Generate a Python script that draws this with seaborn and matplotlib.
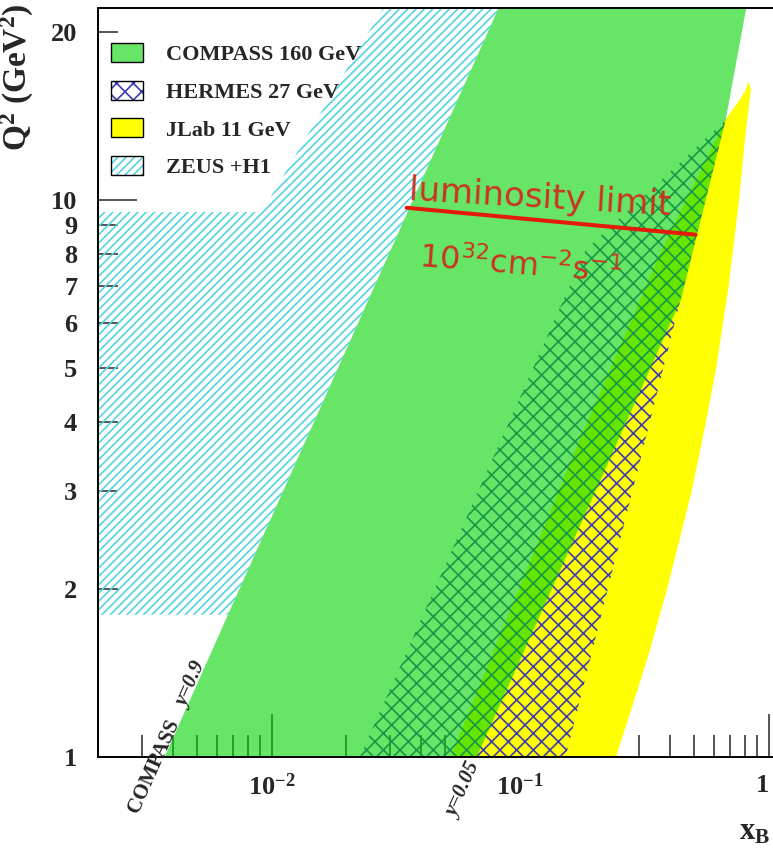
import matplotlib
matplotlib.use("Agg")
import matplotlib.pyplot as plt
import seaborn as sns
import pandas as pd
from matplotlib.patches import Patch
from matplotlib.legend_handler import HandlerTuple
from matplotlib.ticker import FixedLocator, FixedFormatter, NullFormatter

# ---------------- data ----------------
# COMPASS 160 GeV region (x_B, Q^2) polygon
compass_x = [0.00352, 0.0852, 0.826, 0.671, 0.443, 0.0635]
compass_q2 = [0.95, 23.0, 23.0, 13.9, 6.61, 0.95]

# HERMES 27 GeV region
hermes_x = [0.0215, 0.1835, 0.671, 0.148]
hermes_q2 = [0.95, 8.13, 13.9, 0.95]

# JLab 11 GeV region
jlab_x = [0.0501, 0.167, 0.371, 0.67, 0.80, 0.83, 0.848, 0.805, 0.76, 0.69,
          0.615, 0.56, 0.49, 0.39, 0.325, 0.243, 0.233]
jlab_q2 = [0.95, 3.56, 8.13, 13.9, 15.6, 16.3, 15.8, 13.0, 10.0, 7.0,
           5.0, 4.0, 3.0, 2.0, 1.5, 1.0, 0.95]

# ZEUS + H1 region
zeus_x = [0.0019, 0.0019, 0.00912, 0.0296, 0.0852, 0.00667]
zeus_q2 = [1.8, 9.51, 9.51, 23.0, 23.0, 1.8]

# luminosity limit line
lumi_x = [0.0349, 0.508]
lumi_q2 = [9.68, 8.66]

legend_labels = ["COMPASS 160 GeV", "HERMES 27 GeV", "JLab 11 GeV", "ZEUS +H1"]

x_major = [0.01, 0.1, 1.0]
x_major_labels = [r"$10^{-2}$", r"$10^{-1}$", "1"]
x_minor = [0.002, 0.003, 0.004, 0.005, 0.006, 0.007, 0.008, 0.009,
           0.02, 0.03, 0.04, 0.05, 0.06, 0.07, 0.08, 0.09,
           0.2, 0.3, 0.4, 0.5, 0.6, 0.7, 0.8, 0.9]
y_major = [1, 10]
y_major_labels = ["1", "10"]
y_minor = [2, 3, 4, 5, 6, 7, 8, 9, 20]
y_minor_labels = ["2", "3", "4", "5", "6", "7", "8", "9", "20"]

# ---------------- style ----------------
sns.set_theme(style="ticks")
plt.rcParams.update({
    "font.family": ["Liberation Serif", "DejaVu Serif"],
    "font.weight": "normal",
    "mathtext.fontset": "custom",
    "mathtext.rm": "Liberation Serif:bold",
    "mathtext.it": "Liberation Serif:italic:bold",
    "mathtext.bf": "Liberation Serif:bold",
    "hatch.linewidth": 1.2,
    "axes.linewidth": 1.4,
    "axes.edgecolor": "black",
    "axes.facecolor": "white",
    "figure.facecolor": "white",
})

GREEN = (0.0, 0.835, 0.0, 0.6)
YELLOW = "#ffff00"
HBLUE = "#3c3cb4"
CYAN = "#52d4e0"

fig = plt.figure(figsize=(7.73, 8.48), dpi=100)
ax = fig.add_axes([98 / 773, 91 / 848, 675 / 773, 749 / 848])
ax.set_xscale("log")
ax.set_yscale("log")

# regions
ax.fill(jlab_x, jlab_q2, facecolor=YELLOW, edgecolor="none", lw=0, zorder=1.0)
ax.fill(hermes_x, hermes_q2, facecolor="none", edgecolor=HBLUE, hatch="xx", lw=0, zorder=1.1)
ax.fill(compass_x, compass_q2, facecolor=GREEN, edgecolor="none", lw=0, zorder=1.2)
ax.fill(zeus_x, zeus_q2, facecolor="none", edgecolor=CYAN, hatch="////", lw=0, zorder=1.3)

# luminosity limit
lumi = pd.DataFrame({"x": lumi_x, "q2": lumi_q2})
sns.lineplot(data=lumi, x="x", y="q2", ax=ax, color="#e41a0a", lw=2.9, zorder=3)

ax.set_xlim(0.002, 1.041)
ax.set_ylim(1.0, 22.1)

red = "#cc3322"
ax.text(0.0356, 10.0, "luminosity limit", color=red, fontsize=24.5,
        family="DejaVu Sans", weight="normal", rotation=-3.3,
        rotation_mode="anchor", ha="left", va="baseline", zorder=4)
ax.text(0.0390, 7.57, r"$10^{32}\mathrm{cm}^{-2}\mathrm{s}^{-1}$", color=red,
        fontsize=23, family="DejaVu Sans", weight="normal", math_fontfamily="dejavusans",
        rotation=-4.5, rotation_mode="anchor", ha="left", va="baseline", zorder=4)

# kinematic line labels
ax.text(0.00335, 0.963, "COMPASS", fontsize=15, weight="bold", rotation=65.9,
        rotation_mode="anchor", ha="center", va="center", clip_on=False, zorder=4)
ax.text(0.00476, 1.346, "y=0.9", fontsize=15, weight="bold", style="italic", rotation=65.9,
        rotation_mode="anchor", ha="center", va="center", clip_on=False, zorder=4)
ax.text(0.0592, 0.872, "y=0.05", fontsize=15, weight="bold", style="italic", rotation=65.9,
        rotation_mode="anchor", ha="center", va="center", clip_on=False, zorder=4)

# ticks
ax.xaxis.set_major_locator(FixedLocator(x_major))
ax.xaxis.set_major_formatter(FixedFormatter(x_major_labels))
ax.xaxis.set_minor_locator(FixedLocator(x_minor))
ax.xaxis.set_minor_formatter(NullFormatter())
ax.yaxis.set_major_locator(FixedLocator(y_major))
ax.yaxis.set_major_formatter(FixedFormatter(y_major_labels))
ax.yaxis.set_minor_locator(FixedLocator(y_minor))
ax.yaxis.set_minor_formatter(FixedFormatter(y_minor_labels))

ax.tick_params(axis="x", which="major", direction="in", length=31, width=1.1,
               pad=12, labelsize=19, top=False)
ax.tick_params(axis="x", which="minor", direction="in", length=15.5, width=1.1, top=False)
ax.tick_params(axis="y", which="major", direction="in", length=28, width=1.1,
               pad=15, labelsize=19, right=False)
ax.tick_params(axis="y", which="minor", direction="in", length=14.5, width=1.1,
               pad=15, labelsize=19, right=False)
ax.spines["right"].set_visible(False)

for lab in ax.get_xticklabels(which="both") + ax.get_yticklabels(which="both"):
    lab.set_fontweight("bold")
# keep the "1" at the right edge inside the canvas
ax.xaxis.get_major_ticks()[2].label1.set_horizontalalignment("right")

ax.set_ylabel(r"Q$^2$ (GeV$^2$)", fontsize=24, weight="bold", loc="top")
ax.yaxis.set_label_coords(-0.0919, 1.0067)
ax.set_xlabel(r"x$_\mathrm{B}$", fontsize=22, weight="bold", loc="right")
ax.xaxis.set_label_coords(0.996, -0.0814)

# legend
handles = [
    Patch(facecolor=GREEN, edgecolor="black", lw=1.0),
    (Patch(facecolor="white", edgecolor=HBLUE, hatch="xx", lw=0),
     Patch(facecolor="none", edgecolor="black", lw=1.0)),
    Patch(facecolor=YELLOW, edgecolor="black", lw=1.0),
    (Patch(facecolor="white", edgecolor=CYAN, hatch="////", lw=0),
     Patch(facecolor="none", edgecolor="black", lw=1.0)),
]
leg = ax.legend(handles, legend_labels, loc="upper left", bbox_to_anchor=(0.0188, 0.9536),
                frameon=False, prop={"family": "Liberation Serif", "weight": "bold", "size": 16},
                handlelength=1.44, handleheight=0.95,
                handletextpad=1.04, labelspacing=0.70, borderpad=0, borderaxespad=0,
                handler_map={tuple: HandlerTuple(ndivide=1)})
leg.set_zorder(5)

fig.savefig("out.png", dpi=100)
